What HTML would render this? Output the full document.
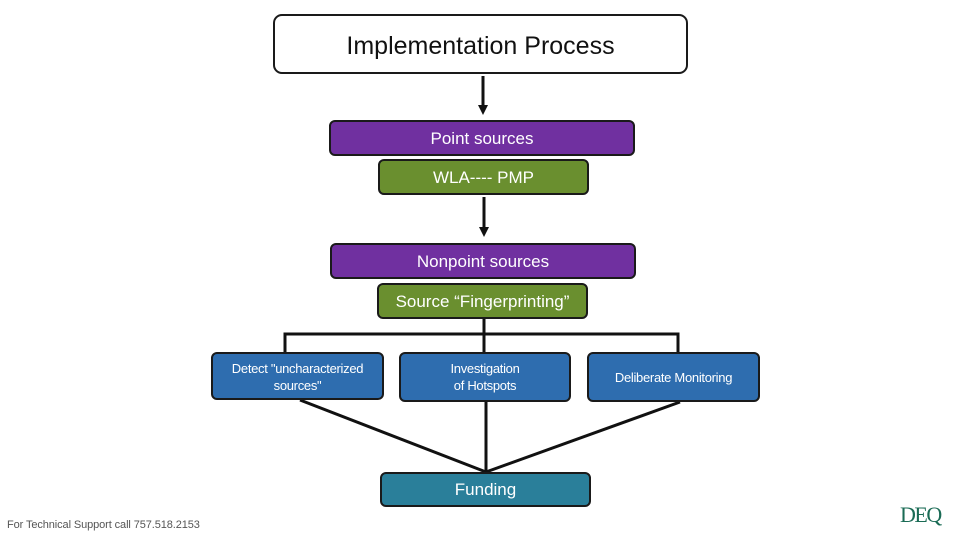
<!DOCTYPE html>
<html><head><meta charset="utf-8"><style>
body{margin:0;width:960px;height:540px;background:#fff;position:relative;overflow:hidden;font-family:"Liberation Sans",sans-serif}
.b{position:absolute;box-sizing:border-box;border:2px solid #1a1a1a;border-radius:6px;color:#fff;display:flex;align-items:center;justify-content:center;text-align:center}
.p{background:#7030a0;font-size:17px}
.g{background:#6a8f2f;font-size:17px}
.bl{background:#2e6daf;font-size:13px;line-height:17px}
</style></head><body>
<svg width="960" height="540" style="position:absolute;left:0;top:0">
<defs><marker id="a" markerWidth="10" markerHeight="10" refX="5" refY="5" orient="auto" markerUnits="userSpaceOnUse"><path d="M0,0 L10,5 L0,10z" fill="#111"/></marker></defs>
<g stroke="#111" stroke-width="3" fill="none">
<line x1="483" y1="76" x2="483" y2="110" marker-end="url(#a)"/>
<line x1="484" y1="197" x2="484" y2="232" marker-end="url(#a)"/>
<line x1="484" y1="319" x2="484" y2="335"/>
<polyline points="285,352 285,334 678,334 678,352"/>
<line x1="484" y1="334" x2="484" y2="352"/>
<line x1="300" y1="400" x2="486" y2="472"/>
<line x1="486" y1="402" x2="486" y2="472"/>
<line x1="680" y1="402" x2="486" y2="472"/>
</g></svg>
<div class="b" style="left:273px;top:14px;width:415px;height:60px;background:#fff;color:#111;font-size:25px;border-radius:9px;padding-top:4px">Implementation Process</div>
<div class="b p" style="left:329px;top:120px;width:306px;height:36px;padding-top:2px">Point sources</div>
<div class="b g" style="left:378px;top:159px;width:211px;height:36px;padding-top:2px">WLA---- PMP</div>
<div class="b p" style="left:330px;top:243px;width:306px;height:36px;padding-top:2px">Nonpoint sources</div>
<div class="b g" style="left:377px;top:283px;width:211px;height:36px;padding-top:2px">Source “Fingerprinting”</div>
<div class="b bl" style="left:211px;top:352px;width:173px;height:48px;align-items:flex-start;padding-top:6px;letter-spacing:-0.3px">Detect "uncharacterized<br>sources"</div>
<div class="b bl" style="left:399px;top:352px;width:172px;height:50px;letter-spacing:-0.3px">Investigation<br>of Hotspots</div>
<div class="b bl" style="left:587px;top:352px;width:173px;height:50px;letter-spacing:-0.3px">Deliberate Monitoring</div>
<div class="b" style="left:380px;top:472px;width:211px;height:35px;background:#2a7f9a;font-size:17px">Funding</div>
<div style="position:absolute;left:7px;top:519px;font-size:11px;color:#555;letter-spacing:-0.1px">For Technical Support call 757.518.2153</div>
<div style="position:absolute;left:900px;top:502px;font-family:'Liberation Serif',serif;font-size:22px;color:#1a6b55;letter-spacing:-1.5px">DEQ</div>
</body></html>
